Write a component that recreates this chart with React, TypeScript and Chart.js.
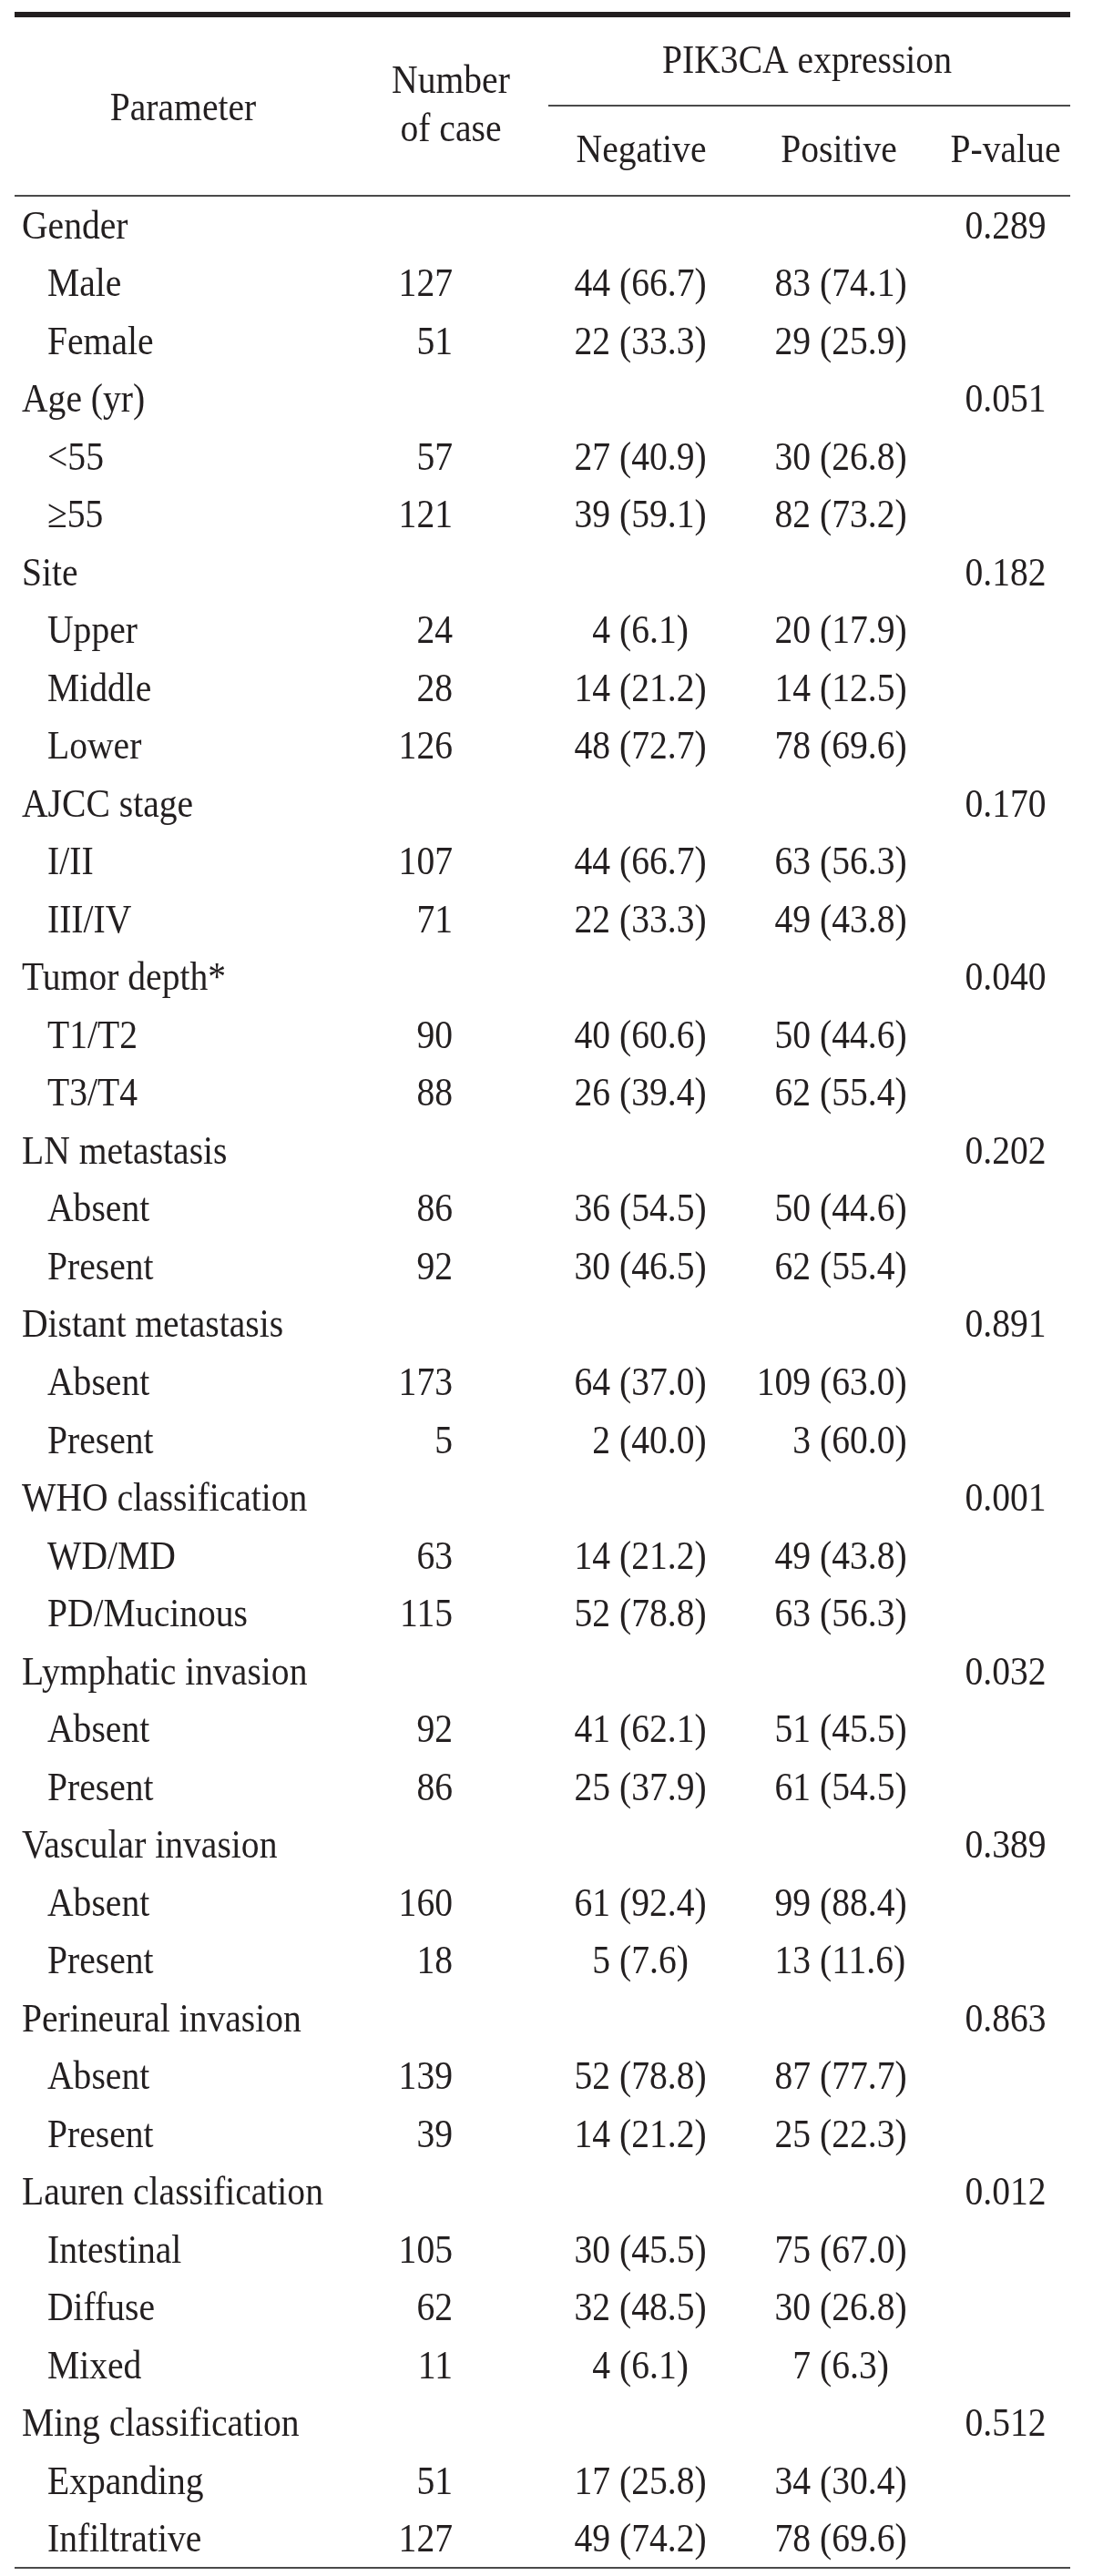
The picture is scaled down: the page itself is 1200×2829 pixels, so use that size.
import React, { useEffect, useRef } from 'react';
import { Chart, registerables } from 'chart.js';

Chart.register(...registerables);

// ---------------- DATA ----------------
const ROW_LABELS = [
  'Gender', 'Male', 'Female',
  'Age (yr)', '<55', '\u226555',
  'Site', 'Upper', 'Middle', 'Lower',
  'AJCC stage', 'I/II', 'III/IV',
  'Tumor depth*', 'T1/T2', 'T3/T4',
  'LN metastasis', 'Absent', 'Present',
  'Distant metastasis', 'Absent', 'Present',
  'WHO classification', 'WD/MD', 'PD/Mucinous',
  'Lymphatic invasion', 'Absent', 'Present',
  'Vascular invasion', 'Absent', 'Present',
  'Perineural invasion', 'Absent', 'Present',
  'Lauren classification', 'Intestinal', 'Diffuse', 'Mixed',
  'Ming classification', 'Expanding', 'Infiltrative',
];

const CASES = [
  null, 127, 51,
  null, 57, 121,
  null, 24, 28, 126,
  null, 107, 71,
  null, 90, 88,
  null, 86, 92,
  null, 173, 5,
  null, 63, 115,
  null, 92, 86,
  null, 160, 18,
  null, 139, 39,
  null, 105, 62, 11,
  null, 51, 127,
];

const NEG_N = [
  null, 44, 22,
  null, 27, 39,
  null, 4, 14, 48,
  null, 44, 22,
  null, 40, 26,
  null, 36, 30,
  null, 64, 2,
  null, 14, 52,
  null, 41, 25,
  null, 61, 5,
  null, 52, 14,
  null, 30, 32, 4,
  null, 17, 49,
];

const NEG_PCT = [
  null, 66.7, 33.3,
  null, 40.9, 59.1,
  null, 6.1, 21.2, 72.7,
  null, 66.7, 33.3,
  null, 60.6, 39.4,
  null, 54.5, 46.5,
  null, 37.0, 40.0,
  null, 21.2, 78.8,
  null, 62.1, 37.9,
  null, 92.4, 7.6,
  null, 78.8, 21.2,
  null, 45.5, 48.5, 6.1,
  null, 25.8, 74.2,
];

const POS_N = [
  null, 83, 29,
  null, 30, 82,
  null, 20, 14, 78,
  null, 63, 49,
  null, 50, 62,
  null, 50, 62,
  null, 109, 3,
  null, 49, 63,
  null, 51, 61,
  null, 99, 13,
  null, 87, 25,
  null, 75, 30, 7,
  null, 34, 78,
];

const POS_PCT = [
  null, 74.1, 25.9,
  null, 26.8, 73.2,
  null, 17.9, 12.5, 69.6,
  null, 56.3, 43.8,
  null, 44.6, 55.4,
  null, 44.6, 55.4,
  null, 63.0, 60.0,
  null, 43.8, 56.3,
  null, 45.5, 54.5,
  null, 88.4, 11.6,
  null, 77.7, 22.3,
  null, 67.0, 26.8, 6.3,
  null, 30.4, 69.6,
];

const P_VALUES = [
  '0.289', null, null,
  '0.051', null, null,
  '0.182', null, null, null,
  '0.170', null, null,
  '0.040', null, null,
  '0.202', null, null,
  '0.891', null, null,
  '0.001', null, null,
  '0.032', null, null,
  '0.389', null, null,
  '0.863', null, null,
  '0.012', null, null, null,
  '0.512', null, null,
];

const HEADER_PARAM = 'Parameter';
const HEADER_CASES = ['Number', 'of case'];
const HEADER_GROUP = 'PIK3CA expression';
const HEADER_NEG = 'Negative';
const HEADER_POS = 'Positive';
const HEADER_P = 'P-value';

// ---------------- LAYOUT / STYLE ----------------
const W = 1200;
const H = 2829;
const FONT_SIZE = 45;
const X_SQUEEZE = 0.88;
const FONT = `${FONT_SIZE}px "Liberation Serif", "Times New Roman", serif`;
const TEXT_COLOR = '#231f20';
const LINE_COLOR = '#4a4a4a';
const COL = { group: 24, sub: 52, cases: 497, negParen: 680, posParen: 900, p: 1104, casesHead: 495, paramHead: 201, groupHead: 886, negHead: 704, posHead: 921 };
const RULE_LEFT = 16;
const RULE_RIGHT = 1175;
const SUB_RULE_LEFT = 602;
const BASELINE_OFFSET = 14;

function drawText(ctx: CanvasRenderingContext2D, text: string, x: number, y: number, align: CanvasTextAlign) {
  ctx.save();
  ctx.translate(x, y);
  ctx.scale(X_SQUEEZE, 1);
  ctx.textAlign = align;
  ctx.textBaseline = 'alphabetic';
  ctx.fillText(text, 0, 0);
  ctx.restore();
}

function textWidth(ctx: CanvasRenderingContext2D, text: string) {
  return ctx.measureText(text).width * X_SQUEEZE;
}

const tablePlugin = {
  id: 'tablePlugin',
  afterDatasetsDraw(chart: any) {
    const ctx: CanvasRenderingContext2D = chart.ctx;
    const { top, bottom } = chart.chartArea;
    ctx.save();
    // rules
    ctx.fillStyle = TEXT_COLOR;
    ctx.fillRect(RULE_LEFT, top - 203, RULE_RIGHT - RULE_LEFT, 6);
    ctx.fillStyle = LINE_COLOR;
    ctx.fillRect(SUB_RULE_LEFT, top - 101, RULE_RIGHT - SUB_RULE_LEFT, 2);
    ctx.fillRect(RULE_LEFT, top - 2, RULE_RIGHT - RULE_LEFT, 2);
    ctx.fillRect(RULE_LEFT, bottom - 1, RULE_RIGHT - RULE_LEFT, 2);

    // header text
    ctx.font = FONT;
    ctx.fillStyle = TEXT_COLOR;
    drawText(ctx, HEADER_PARAM, COL.paramHead, top - 84, 'center');
    drawText(ctx, HEADER_CASES[0], COL.casesHead, top - 114, 'center');
    drawText(ctx, HEADER_CASES[1], COL.casesHead, top - 61, 'center');
    drawText(ctx, HEADER_GROUP, COL.groupHead, top - 136, 'center');
    drawText(ctx, HEADER_NEG, COL.negHead, top - 38, 'center');
    drawText(ctx, HEADER_POS, COL.posHead, top - 38, 'center');
    drawText(ctx, HEADER_P, COL.p, top - 38, 'center');

    // cells, positioned by the chart's scales
    chart.data.datasets.forEach((ds: any, di: number) => {
      const meta = chart.getDatasetMeta(di);
      meta.data.forEach((el: any, j: number) => {
        const cell = ds.cells[j];
        const y = el.y + BASELINE_OFFSET;
        if (ds.kind === 'split') {
          const lead = `${cell.count} `;
          drawText(ctx, lead + `(${cell.pct})`, el.x - textWidth(ctx, lead), y, 'left');
        } else {
          drawText(ctx, cell, el.x, y, ds.align);
        }
      });
    });
    ctx.restore();
  },
};

function buildDatasets() {
  const idx = ROW_LABELS.map((_, i) => i);
  const base = { pointRadius: 0, pointHoverRadius: 0, borderWidth: 0, showLine: false };
  const labelRows = idx;
  const caseRows = idx.filter((i) => CASES[i] !== null);
  const negRows = idx.filter((i) => NEG_N[i] !== null);
  const posRows = idx.filter((i) => POS_N[i] !== null);
  const pRows = idx.filter((i) => P_VALUES[i] !== null);
  return [
    {
      ...base, label: 'Parameter', kind: 'text', align: 'left',
      data: labelRows.map((i) => ({ x: CASES[i] === null ? COL.group : COL.sub, y: i })),
      cells: labelRows.map((i) => ROW_LABELS[i]),
    },
    {
      ...base, label: 'Number of case', kind: 'text', align: 'right',
      data: caseRows.map((i) => ({ x: COL.cases, y: i })),
      cells: caseRows.map((i) => String(CASES[i])),
    },
    {
      ...base, label: 'Negative', kind: 'split',
      data: negRows.map((i) => ({ x: COL.negParen, y: i })),
      cells: negRows.map((i) => ({ count: NEG_N[i], pct: (NEG_PCT[i] as number).toFixed(1) })),
    },
    {
      ...base, label: 'Positive', kind: 'split',
      data: posRows.map((i) => ({ x: COL.posParen, y: i })),
      cells: posRows.map((i) => ({ count: POS_N[i], pct: (POS_PCT[i] as number).toFixed(1) })),
    },
    {
      ...base, label: 'P-value', kind: 'text', align: 'center',
      data: pRows.map((i) => ({ x: COL.p, y: i })),
      cells: pRows.map((i) => P_VALUES[i] as string),
    },
  ];
}

export default function App() {
  const canvasRef = useRef<HTMLCanvasElement | null>(null);

  useEffect(() => {
    if (!canvasRef.current) return;
    const chart = new Chart(canvasRef.current, {
      type: 'scatter',
      data: { datasets: buildDatasets() as any },
      options: {
        responsive: false,
        animation: false,
        devicePixelRatio: 1,
        events: [],
        layout: { padding: { top: 216, bottom: 9, left: 0, right: 0 } },
        plugins: { legend: { display: false }, tooltip: { enabled: false } },
        scales: {
          x: { type: 'linear', min: 0, max: W, display: false },
          y: { type: 'linear', min: -0.5, max: ROW_LABELS.length - 0.5, reverse: true, display: false },
        },
      },
      plugins: [tablePlugin],
    });
    return () => chart.destroy();
  }, []);

  return (
    <div style={{ position: 'absolute', left: 0, top: 0, width: W, height: H, background: '#fff' }}>
      <canvas ref={canvasRef} width={W} height={H} style={{ display: 'block' }} />
    </div>
  );
}
